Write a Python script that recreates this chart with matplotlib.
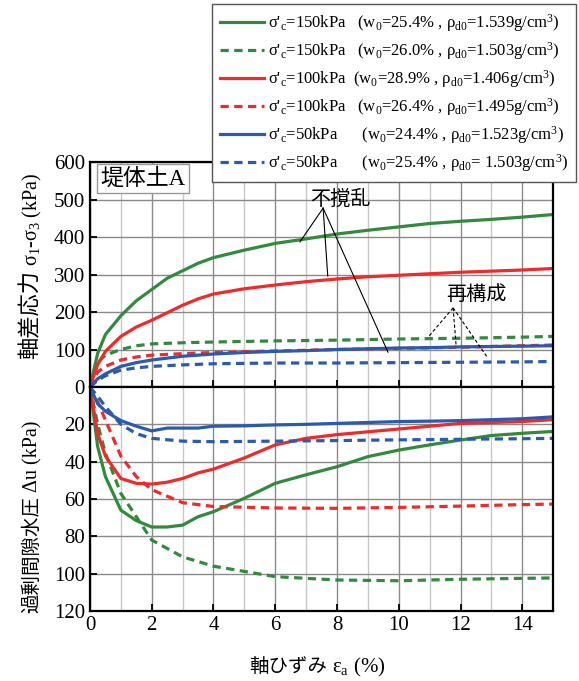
import matplotlib
matplotlib.use("Agg")
import matplotlib.pyplot as plt
from matplotlib.ticker import MultipleLocator

plt.rcParams['font.family'] = ['Liberation Serif', 'Noto Sans CJK JP']
plt.rcParams['mathtext.fontset'] = 'custom'
plt.rcParams['mathtext.rm'] = 'Liberation Serif'
plt.rcParams['mathtext.it'] = 'Liberation Serif'

# axial strain (%) and deviator stress (kPa)
eps_a = [0, 0.25, 0.5, 1, 1.5, 2, 2.5, 3, 3.5, 4, 5, 6, 7, 8, 9, 10, 11, 12, 13, 14, 15]
q_150u = [0, 90, 140, 190, 230, 260, 290, 310, 330, 345, 365, 383, 395, 408, 418, 427, 436, 442, 447, 453, 460]
q_100u = [0, 60, 95, 135, 160, 178, 198, 218, 235, 248, 262, 272, 281, 288, 294, 298, 302, 306, 309, 312, 316]
q_50u = [0, 22, 35, 55, 65, 72, 77, 82, 85, 88, 92, 95, 97, 100, 102, 104, 105, 107, 108, 109, 110]
eps_b = [0, 0.25, 0.5, 1, 1.5, 2, 3, 4, 6, 8, 10, 12, 14, 15]
q_150r = [0, 65, 85, 100, 110, 115, 118, 120, 123, 125, 128, 130, 133, 135]
q_100r = [0, 40, 55, 72, 80, 85, 89, 92, 96, 100, 103, 106, 110, 112]
q_50r = [0, 18, 30, 45, 51, 55, 59, 62, 64, 64, 65, 66, 67, 68]

# excess pore water pressure (kPa)
du_150u = [0, 32, 48, 66, 71.6, 75, 75, 74, 69.5, 66.8, 59.6, 51.6, 47, 42.7, 37.3, 33.8, 31, 28.4, 26, 24.8, 23.8]
du_100u = [0, 25, 37, 49, 51.6, 52, 51, 49, 46, 44, 38, 31, 27.5, 25.5, 24, 22.5, 21, 19.5, 19, 18.5, 17.5]
du_50u = [0, 9, 13, 18, 21, 23.5, 22, 22, 22, 21, 20.8, 20.3, 20, 19.5, 19, 18.5, 18.3, 18, 17.5, 17, 16]
du_150r = [0, 20, 35.5, 57, 69.5, 82, 91, 96, 101.6, 103.4, 103.8, 103, 102.5, 102.3]
du_100r = [0, 8, 17.7, 37, 48, 55, 62, 64, 64.8, 65, 64.5, 63.8, 63, 62.7]
du_50r = [0, 5, 10.5, 20, 25, 27.5, 29, 29.3, 29, 28.7, 28.3, 28, 27.7, 27.5]

labels = [
    "σ'$_\\mathrm{c}$=150kPa   (w$_0$=25.4% , ρ$_\\mathrm{d0}$=1.539g/cm$^3$)",
    "σ'$_\\mathrm{c}$=150kPa   (w$_0$=26.0% , ρ$_\\mathrm{d0}$=1.503g/cm$^3$)",
    "σ'$_\\mathrm{c}$=100kPa  (w$_0$=28.9% , ρ$_\\mathrm{d0}$=1.406g/cm$^3$)",
    "σ'$_\\mathrm{c}$=100kPa   (w$_0$=26.4% , ρ$_\\mathrm{d0}$=1.495g/cm$^3$)",
    "σ'$_\\mathrm{c}$=50kPa      (w$_0$=24.4% , ρ$_\\mathrm{d0}$=1.523g/cm$^3$)",
    "σ'$_\\mathrm{c}$=50kPa      (w$_0$=25.4% , ρ$_\\mathrm{d0}$= 1.503g/cm$^3$)",
]

green = '#338a3e'
red = '#ee2a2a'
blue = '#2c5aad'
dash = (0, (2.6, 1.7))
lw = 2.3

fig = plt.figure(figsize=(5.79, 6.81), dpi=100)
ax1 = fig.add_axes([0.1554, 0.4317, 0.8, 0.3304])
ax2 = fig.add_axes([0.1554, 0.1028, 0.8, 0.3289], sharex=ax1)

h = []
h += ax1.plot(eps_a, q_150u, color=green, lw=lw, label=labels[0])
h += ax1.plot(eps_b, q_150r, color=green, lw=lw, ls=dash, label=labels[1])
h += ax1.plot(eps_a, q_100u, color=red, lw=lw, label=labels[2])
h += ax1.plot(eps_b, q_100r, color=red, lw=lw, ls=dash, label=labels[3])
h += ax1.plot(eps_a, q_50u, color=blue, lw=lw, label=labels[4])
h += ax1.plot(eps_b, q_50r, color=blue, lw=lw, ls=dash, label=labels[5])

ax2.plot(eps_a, du_150u, color=green, lw=lw)
ax2.plot(eps_b, du_150r, color=green, lw=lw, ls=dash)
ax2.plot(eps_a, du_100u, color=red, lw=lw)
ax2.plot(eps_b, du_100r, color=red, lw=lw, ls=dash)
ax2.plot(eps_a, du_50u, color=blue, lw=lw)
ax2.plot(eps_b, du_50r, color=blue, lw=lw, ls=dash)

ax1.set_xlim(0, 15)
ax1.set_ylim(0, 600)
ax2.set_ylim(120, 0)
ax1.set_yticks(range(0, 601, 100))
ax2.set_yticks(range(20, 121, 20))
ax1.xaxis.set_major_locator(MultipleLocator(2))
ax1.xaxis.set_minor_locator(MultipleLocator(1))

for ax in (ax1, ax2):
    ax.grid(which='major', axis='x', color='#8a8a8a', lw=1.0)
    ax.grid(which='minor', axis='x', color='#c8c8c8', lw=1.0)
    ax.grid(which='major', axis='y', color='#8a8a8a', lw=1.0)
    ax.set_axisbelow(True)
    ax.tick_params(direction='in', length=5, width=1.3, labelsize=15)
    ax.tick_params(which='minor', length=0)
    for s in ax.spines.values():
        s.set_linewidth(1.6)
ax1.tick_params(labelbottom=False)

# axis labels: CJK part and serif/math part as separate texts
kw = dict(rotation=90, rotation_mode='anchor', va='baseline')
fig.text(37 / 579, 1 - 270 / 681, "軸差応力", fontsize=16, ha='right', **kw)
fig.text(37 / 579, 1 - 266 / 681, "σ$_\\mathrm{1}$-σ$_\\mathrm{3}$ (kPa)", fontsize=14.5, ha='left', **kw)
fig.text(37 / 579, 1 - 496 / 681, "過剰間隙水圧", fontsize=14, ha='right', **kw)
fig.text(37 / 579, 1 - 492 / 681, "Δu (kPa)", fontsize=14.5, ha='left', **kw)
fig.text(327 / 579, 1 - 672 / 681, "軸ひずみ", fontsize=14, ha='right', va='baseline')
fig.text(332 / 579, 1 - 672 / 681, "ε$_\\mathrm{a}$ (%)", fontsize=15, ha='left', va='baseline')

ax1.text(0.022, 0.975, "堤体土A", transform=ax1.transAxes, fontsize=16.5,
         va='top', ha='left',
         bbox=dict(boxstyle='square,pad=0.15', fc='white', ec='#999999', lw=1))

# annotations
ax1.text(8.1, 499, "不撹乱", fontsize=14.5, ha='center', va='center')
for xe, ye in [(6.8, 387), (7.7, 296), (9.65, 93)]:
    ax1.plot([7.55, xe], [477, ye], color='black', lw=0.8)
ax1.text(12.5, 245, "再構成", fontsize=14.5, ha='center', va='center')
for xe, ye in [(10.95, 133), (11.86, 107), (12.86, 80)]:
    ax1.plot([11.76, xe], [211, ye], color='black', lw=0.8, ls=(0, (3, 2)))

leg = fig.legend(handles=h, loc='upper left', bbox_to_anchor=(0.366, 0.994),
                 fontsize=12, frameon=True, fancybox=False, framealpha=1,
                 edgecolor='#555555', handlelength=2.6, labelspacing=0.36,
                 borderpad=0.5, handletextpad=0.25, borderaxespad=0)
leg.get_frame().set_linewidth(1.0)

fig.savefig("out.png", dpi=100)
